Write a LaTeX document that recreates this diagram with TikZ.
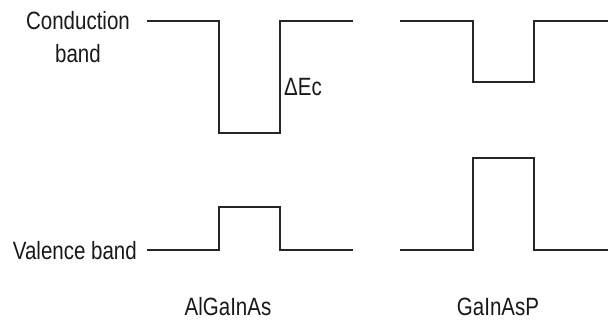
\documentclass[tikz,border=0pt]{standalone}
\usepackage{fontspec}
\setmainfont{Liberation Sans}[FakeStretch=0.82]
\begin{document}
\begin{tikzpicture}[x=1pt,y=-1pt,
  band/.style={line width=1.3pt,draw=black!85,line join=miter},
  lbl/.style={inner sep=0pt,font=\fontsize{25}{33}\selectfont,text=black!90}]
\useasboundingbox (0,0) rectangle (613,320);

% AlGaInAs well: conduction and valence band edges
\draw[band] (147,21) -- (219,21) -- (219,133) -- (280,133) -- (280,21) -- (353,21);
\draw[band] (147,250) -- (219,250) -- (219,207) -- (280,207) -- (280,250) -- (353,250);

% GaInAsP well
\draw[band] (400,21) -- (473,21) -- (473,82) -- (534,82) -- (534,21) -- (608,21);
\draw[band] (400,250) -- (473,250) -- (473,158) -- (534,158) -- (534,250) -- (608,250);

% labels
\node[lbl,align=center,anchor=base] (cb) at (78,63) {Conduction\\band};
\node[lbl,anchor=base east] (vb) at (137,260) {Valence band};
\node[lbl,anchor=base west] (dec) at (284,96) {ΔEc};
\node[lbl,anchor=base] (m1) at (228,316) {AlGaInAs};
\node[lbl,anchor=base] (m2) at (498,316) {GaInAsP};
\end{tikzpicture}
\end{document}
